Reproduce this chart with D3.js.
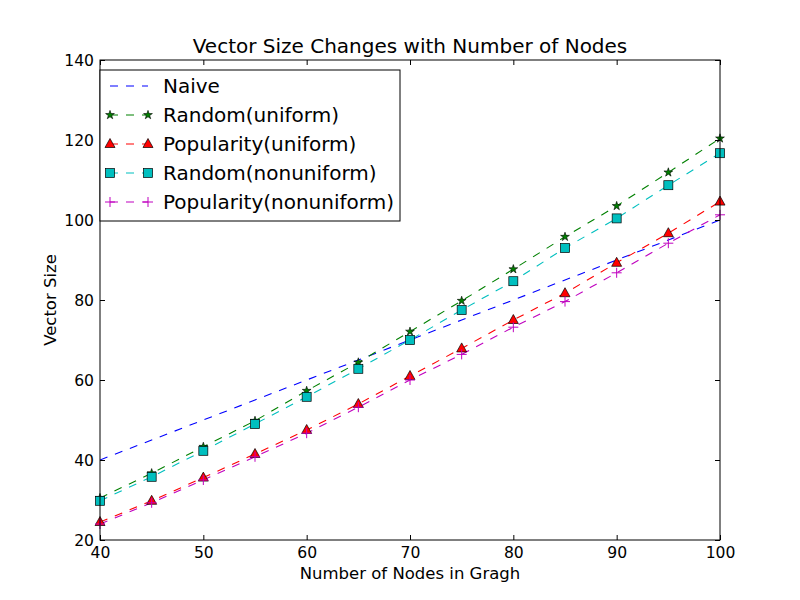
<!DOCTYPE html>
<html>
<head>
<meta charset="utf-8">
<script src="https://cdn.jsdelivr.net/npm/d3@7"></script>
<style>
  body { margin: 0; background: #fff; }
  text { font-family: "DejaVu Sans", sans-serif; fill: #000; }
</style>
</head>
<body>
<svg width="800" height="600"></svg>
<script>
// data
var nodes = [40, 45, 50, 55, 60, 65, 70, 75, 80, 85, 90, 95, 100];
var naive = [40, 45, 50, 55, 60, 65, 70, 75, 80, 85, 90, 95, 100];
var randomUniform = [30.5, 36.7, 43.3, 49.8, 57.3, 64.4, 72.1, 79.8, 87.7, 95.8, 103.5, 111.9, 120.4];
var popularityUniform = [24.5, 29.8, 35.6, 41.5, 47.5, 54, 61, 67.9, 75, 81.7, 89.3, 96.7, 104.6];
var randomNonuniform = [29.8, 35.8, 42.3, 49, 55.8, 62.8, 70, 77.5, 84.7, 93, 100.4, 108.7, 116.7];
var popularityNonuniform = [24, 29.3, 35, 40.8, 46.7, 53.2, 60, 66.4, 73.2, 79.6, 86.8, 94.2, 101.3];
var xTicks = [40, 50, 60, 70, 80, 90, 100];
var yTicks = [20, 40, 60, 80, 100, 120, 140];

var series = [
  {name: 'Naive', values: naive, color: '#0000ff', marker: null},
  {name: 'Random(uniform)', values: randomUniform, color: '#008000', marker: 'star'},
  {name: 'Popularity(uniform)', values: popularityUniform, color: '#ff0000', marker: 'triangle'},
  {name: 'Random(nonuniform)', values: randomNonuniform, color: '#00bfbf', marker: 'square'},
  {name: 'Popularity(nonuniform)', values: popularityNonuniform, color: '#bf00bf', marker: 'plus'}
];

var svg = d3.select('svg');
var margin = {left: 100, right: 80, top: 60, bottom: 60};
var width = 800 - margin.left - margin.right;
var height = 600 - margin.top - margin.bottom;

var x = d3.scaleLinear().domain([40, 100]).range([0, width]);
var y = d3.scaleLinear().domain([20, 140]).range([height, 0]);

var g = svg.append('g').attr('transform', 'translate(' + margin.left + ',' + margin.top + ')');

// clip for lines
svg.append('defs').append('clipPath').attr('id', 'clip')
  .append('rect').attr('x', 0).attr('y', 0).attr('width', width).attr('height', height);

var line = d3.line()
  .x(function(d, i) { return x(nodes[i]); })
  .y(function(d) { return y(d); });

var plot = g.append('g').attr('clip-path', 'url(#clip)');

series.forEach(function(s) {
  plot.append('path')
    .attr('d', line(s.values))
    .attr('fill', 'none')
    .attr('stroke', s.color)
    .attr('stroke-width', 1.1)
    .attr('stroke-dasharray', '8,8');
});

function drawMarker(sel, type, color, cx, cy) {
  if (type === 'star') {
    sel.append('path')
      .attr('d', d3.symbol().type(d3.symbolStar).size(24)())
      .attr('transform', 'translate(' + cx + ',' + cy + ')')
      .attr('fill', color).attr('stroke', '#000').attr('stroke-width', 0.6);
  } else if (type === 'triangle') {
    sel.append('path')
      .attr('d', 'M0,-5.5L5,3.5L-5,3.5Z')
      .attr('transform', 'translate(' + cx + ',' + cy + ')')
      .attr('fill', color).attr('stroke', '#000').attr('stroke-width', 0.7);
  } else if (type === 'square') {
    sel.append('rect')
      .attr('x', cx - 4.5).attr('y', cy - 4.5).attr('width', 9).attr('height', 9)
      .attr('fill', color).attr('stroke', '#000').attr('stroke-width', 0.7);
  } else if (type === 'plus') {
    sel.append('path')
      .attr('d', 'M-5,0H5M0,-5V5')
      .attr('transform', 'translate(' + cx + ',' + cy + ')')
      .attr('stroke', color).attr('stroke-width', 1);
  }
}

series.forEach(function(s) {
  if (!s.marker) return;
  s.values.forEach(function(v, i) {
    drawMarker(g, s.marker, s.color, x(nodes[i]), y(v));
  });
});

// frame
g.append('rect').attr('width', width).attr('height', height)
  .attr('fill', 'none').attr('stroke', '#000').attr('stroke-width', 1);

// axes with inward ticks on all sides
var xAxis = g.append('g').attr('transform', 'translate(0,' + height + ')')
  .call(d3.axisBottom(x).tickValues(xTicks).tickSizeInner(-5).tickSizeOuter(0).tickPadding(7));
var xTop = g.append('g')
  .call(d3.axisTop(x).tickValues(xTicks).tickSizeInner(-5).tickSizeOuter(0).tickFormat(''));
var yAxis = g.append('g')
  .call(d3.axisLeft(y).tickValues(yTicks).tickSizeInner(-5).tickSizeOuter(0).tickPadding(6));
var yRight = g.append('g').attr('transform', 'translate(' + width + ',0)')
  .call(d3.axisRight(y).tickValues(yTicks).tickSizeInner(-5).tickSizeOuter(0).tickFormat(''));

[xAxis, xTop, yAxis, yRight].forEach(function(a) {
  a.select('.domain').remove();
  a.selectAll('line').attr('stroke', '#000');
  a.selectAll('text').style('font-family', '"DejaVu Sans", sans-serif').style('font-size', '15.6px').attr('fill', '#000');
});

// titles
svg.append('text').attr('x', margin.left + width / 2).attr('y', 53)
  .attr('text-anchor', 'middle').style('font-size', '20px')
  .text('Vector Size Changes with Number of Nodes');
svg.append('text').attr('x', margin.left + width / 2).attr('y', 579)
  .attr('text-anchor', 'middle').style('font-size', '16.5px')
  .text('Number of Nodes in Gragh');
svg.append('text').attr('transform', 'translate(56,' + (margin.top + height / 2) + ') rotate(-90)')
  .attr('text-anchor', 'middle').style('font-size', '16.5px')
  .text('Vector Size');

// legend
var legend = svg.append('g').attr('transform', 'translate(100,70)');
legend.append('rect').attr('width', 300).attr('height', 151)
  .attr('fill', '#fff').attr('stroke', '#000').attr('stroke-width', 1);
series.forEach(function(s, i) {
  var ly = 16 + i * 29;
  legend.append('line').attr('x1', 10).attr('x2', 48).attr('y1', ly).attr('y2', ly)
    .attr('stroke', s.color).attr('stroke-width', 1.1).attr('stroke-dasharray', '8,8');
  if (s.marker) {
    drawMarker(legend, s.marker, s.color, 10, ly);
    drawMarker(legend, s.marker, s.color, 48, ly);
  }
  legend.append('text').attr('x', 63).attr('y', ly + 7)
    .style('font-size', '20px').text(s.name);
});
</script>
</body>
</html>
